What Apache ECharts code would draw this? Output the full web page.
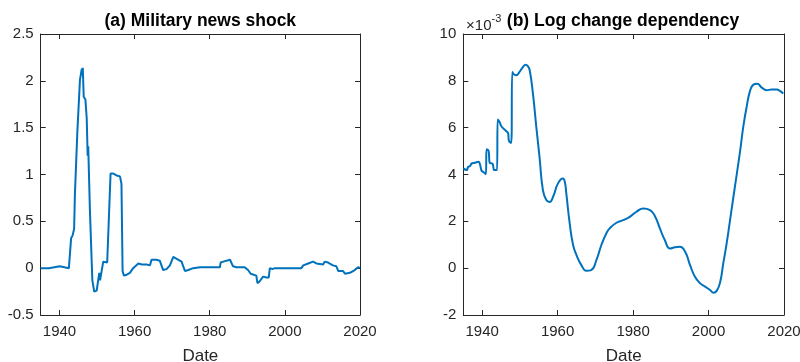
<!DOCTYPE html>
<html>
<head>
<meta charset="utf-8">
<script src="https://cdn.jsdelivr.net/npm/echarts@6/dist/echarts.min.js"></script>
<style>html,body{margin:0;padding:0;background:#fff}#c{width:800px;height:362px}</style>
</head>
<body>
<div id="c"></div>
<script>
// ---- Panel (a): military news shock ----
const shockYears = [1935, 1937.2, 1937.4, 1940.1, 1940.4, 1942.5, 1942.8, 1943.0, 1943.1, 1943.5, 1943.9, 1944.1, 1944.6, 1944.75, 1945.1, 1945.45, 1945.75, 1945.95, 1946.05, 1946.2, 1946.3, 1946.45, 1946.9, 1947.25, 1947.5, 1947.65, 1947.9, 1948.1, 1948.3, 1948.75, 1949.0, 1949.25, 1949.9, 1950.3, 1950.6, 1950.8, 1951.05, 1951.3, 1951.65, 1952.1, 1952.7, 1953.15, 1953.6, 1954.3, 1955.2, 1956.1, 1956.5, 1956.8, 1957.15, 1957.9, 1958.75, 1959.6, 1960.1, 1961.0, 1961.9, 1963.2, 1964.1, 1964.5, 1965.8, 1966.7, 1967.6, 1968.5, 1969.4, 1970.3, 1971.2, 1972.5, 1973.4, 1974.3, 1975.6, 1977.4, 1979.6, 1982.7, 1982.9, 1983.6, 1984.0, 1985.4, 1985.8, 1986.2, 1987.1, 1989.3, 1990.2, 1990.9, 1992.4, 1992.7, 1993.3, 1993.8, 1994.2, 1995.1, 1995.7, 1996.0, 1996.7, 1997.3, 2004.4, 2004.9, 2006.2, 2007.5, 2008.4, 2008.8, 2010.2, 2010.6, 2011.5, 2012.8, 2013.7, 2014.2, 2014.6, 2015.5, 2016.0, 2017.3, 2017.7, 2018.6, 2019.0, 2019.5, 2020];
const shockValues = [0.0, 0.0, 0.02, 0.02, 0.0, 0.0, 0.02, 0.02, 0.32, 0.35, 0.42, 0.78, 0.78, 1.45, 1.47, 2.01, 2.03, 2.13, 2.06, 2.14, 2.13, 1.83, 1.8, 1.6, 1.2, 1.3, 1.28, 0.62, 0.6, -0.13, -0.14, -0.25, -0.24, -0.22, -0.05, -0.13, -0.11, -0.13, 0.07, 0.07, 0.06, 0.05, 1.01, 1.01, 0.99, 0.98, 0.9, -0.03, -0.08, -0.07, -0.05, 0.0, 0.02, 0.05, 0.04, 0.04, 0.03, 0.09, 0.09, 0.08, -0.02, -0.01, 0.03, 0.12, 0.1, 0.07, -0.03, -0.02, 0.0, 0.01, 0.01, 0.01, 0.06, 0.07, 0.09, 0.09, 0.07, 0.02, 0.01, 0.01, -0.02, -0.06, -0.08, -0.16, -0.14, -0.13, -0.09, -0.1, -0.1, 0.0, -0.01, 0.0, 0.0, 0.03, 0.05, 0.07, 0.05, 0.04, 0.04, 0.07, 0.06, 0.03, 0.02, -0.03, -0.04, -0.03, -0.06, -0.05, -0.03, -0.02, -0.01, 0.01, 0.0];

// ---- Panel (b): log change dependency (values in units of 1e-3) ----
const depYears = [1935, 1935.9, 1936.3, 1936.8, 1937.2, 1938.1, 1939.0, 1939.4, 1939.85, 1940.3, 1941.0, 1941.15, 1941.7, 1942.0, 1942.7, 1943.25, 1943.95, 1944.1, 1944.65, 1945.1, 1946.4, 1946.85, 1947.1, 1947.7, 1948.0, 1948.35, 1949.05, 1949.9, 1950.8, 1951.5, 1952.1, 1952.6, 1953.45, 1954.35, 1955.2, 1956.1, 1957.0, 1957.9, 1958.8, 1960.1, 1961.4, 1961.9, 1962.3, 1963.2, 1964.1, 1965.0, 1966.3, 1967.6, 1968.9, 1970.3, 1971.6, 1972.9, 1973.8, 1975.6, 1977.4, 1979.1, 1980.9, 1982.7, 1984.5, 1985.8, 1987.1, 1988.4, 1989.8, 1991.1, 1992.4, 1993.8, 1995.1, 1996.4, 1997.8, 1999.1, 2000.4, 2001.3, 2002.2, 2003.1, 2003.9, 2004.8, 2005.7, 2006.6, 2007.5, 2008.4, 2009.2, 2010.1, 2011.0, 2011.9, 2012.9, 2014.1, 2015.4, 2016.7, 2018.1, 2018.9, 2019.8];
const depValues = [4.26, 4.19, 4.33, 4.36, 4.47, 4.50, 4.54, 4.44, 4.16, 4.11, 4.01, 5.08, 5.01, 4.50, 4.47, 4.19, 4.19, 6.35, 6.23, 6.06, 5.85, 5.78, 5.44, 5.35, 8.38, 8.28, 8.24, 8.38, 8.59, 8.69, 8.63, 8.45, 7.46, 6.03, 4.75, 3.33, 2.91, 2.83, 3.05, 3.62, 3.83, 3.69, 3.19, 1.91, 0.99, 0.56, 0.13, -0.11, -0.08, 0.35, 0.99, 1.48, 1.70, 1.94, 2.05, 2.19, 2.41, 2.55, 2.48, 2.22, 1.70, 1.20, 0.84, 0.89, 0.91, 0.70, 0.13, -0.37, -0.65, -0.79, -0.93, -1.05, -0.96, -0.58, 0.20, 1.06, 2.05, 3.05, 4.04, 5.04, 6.03, 6.89, 7.57, 7.84, 7.88, 7.71, 7.60, 7.63, 7.63, 7.57, 7.46];

// ---- Ticks ----
const xTicks = [1940, 1960, 1980, 2000, 2020];
const yTicksA = [-0.5, 0, 0.5, 1, 1.5, 2, 2.5];
const yTicksB = [-2, 0, 2, 4, 6, 8, 10];

const FONT = '"Liberation Sans", Arial, Helvetica, sans-serif';
const AX = '#262626';
const LINE = '#0072BD';

const grids = [
  {left: 40.7, right: 440, top: 34, bottom: 47, containLabel: false, outerBoundsMode: 'none'},
  {left: 463.3, right: 16, top: 34, bottom: 47, containLabel: false, outerBoundsMode: 'none'}
];

function fmt(v) { return String(v); }

function xAxisPair(gi) {
  const base = {
    type: 'value', gridIndex: gi, min: 1935, max: 2020,
    axisLine: {show: true, onZero: false, lineStyle: {color: AX, width: 1}},
    splitLine: {show: false},
    axisTick: {show: true, inside: true, length: 5, customValues: xTicks, lineStyle: {color: AX}},
  };
  return [
    Object.assign({}, base, {position: 'bottom',
      axisLabel: {show: true, customValues: xTicks, formatter: fmt, color: AX, fontSize: 15, fontFamily: FONT, margin: 9},
      name: 'Date', nameLocation: 'middle', nameGap: 33,
      nameTextStyle: {color: AX, fontSize: 17, fontFamily: FONT}
    }),
    Object.assign({}, base, {position: 'top', axisLabel: {show: false}})
  ];
}
function yAxisPair(gi, min, max, ticks) {
  const base = {
    type: 'value', gridIndex: gi, min: min, max: max,
    axisLine: {show: true, onZero: false, lineStyle: {color: AX, width: 1}},
    splitLine: {show: false},
    axisTick: {show: true, inside: true, length: 5, customValues: ticks, lineStyle: {color: AX}},
  };
  return [
    Object.assign({}, base, {position: 'left',
      axisLabel: {show: true, customValues: ticks, formatter: fmt, color: AX, fontSize: 15, fontFamily: FONT, margin: 7}}),
    Object.assign({}, base, {position: 'right', axisLabel: {show: false}})
  ];
}

const chart = echarts.init(document.getElementById('c'), null, {renderer: 'canvas'});
chart.setOption({
  animation: false,
  backgroundColor: '#fff',
  grid: grids,
  xAxis: [...xAxisPair(0), ...xAxisPair(1)],
  yAxis: [...yAxisPair(0, -0.5, 2.5, yTicksA), ...yAxisPair(1, -2, 10, yTicksB)],
  series: [
    {type: 'line', xAxisIndex: 0, yAxisIndex: 0, showSymbol: false,
     lineStyle: {color: LINE, width: 2}, data: shockYears.map((y, i) => [y, shockValues[i]])},
    {type: 'line', xAxisIndex: 2, yAxisIndex: 2, showSymbol: false, smooth: 0.5,
     lineStyle: {color: LINE, width: 2}, data: depYears.map((y, i) => [y, depValues[i]])}
  ],
  graphic: [
    {type: 'text', x: 200.3, y: 21, style: {text: '(a) Military news shock', fill: '#000',
      font: 'bold 17.5px ' + FONT, textAlign: 'center', textVerticalAlign: 'middle'}},
    {type: 'text', x: 623, y: 21, style: {text: '(b) Log change dependency', fill: '#000',
      font: 'bold 17.5px ' + FONT, textAlign: 'center', textVerticalAlign: 'middle'}},
    {type: 'text', x: 491.5, y: 26, style: {text: '×10', fill: AX,
      font: '15px ' + FONT, textAlign: 'right', textVerticalAlign: 'middle'}},
    {type: 'text', x: 491.5, y: 19, style: {text: '-3', fill: AX,
      font: '11px ' + FONT, textAlign: 'left', textVerticalAlign: 'middle'}}
  ]
});
</script>
</body>
</html>
